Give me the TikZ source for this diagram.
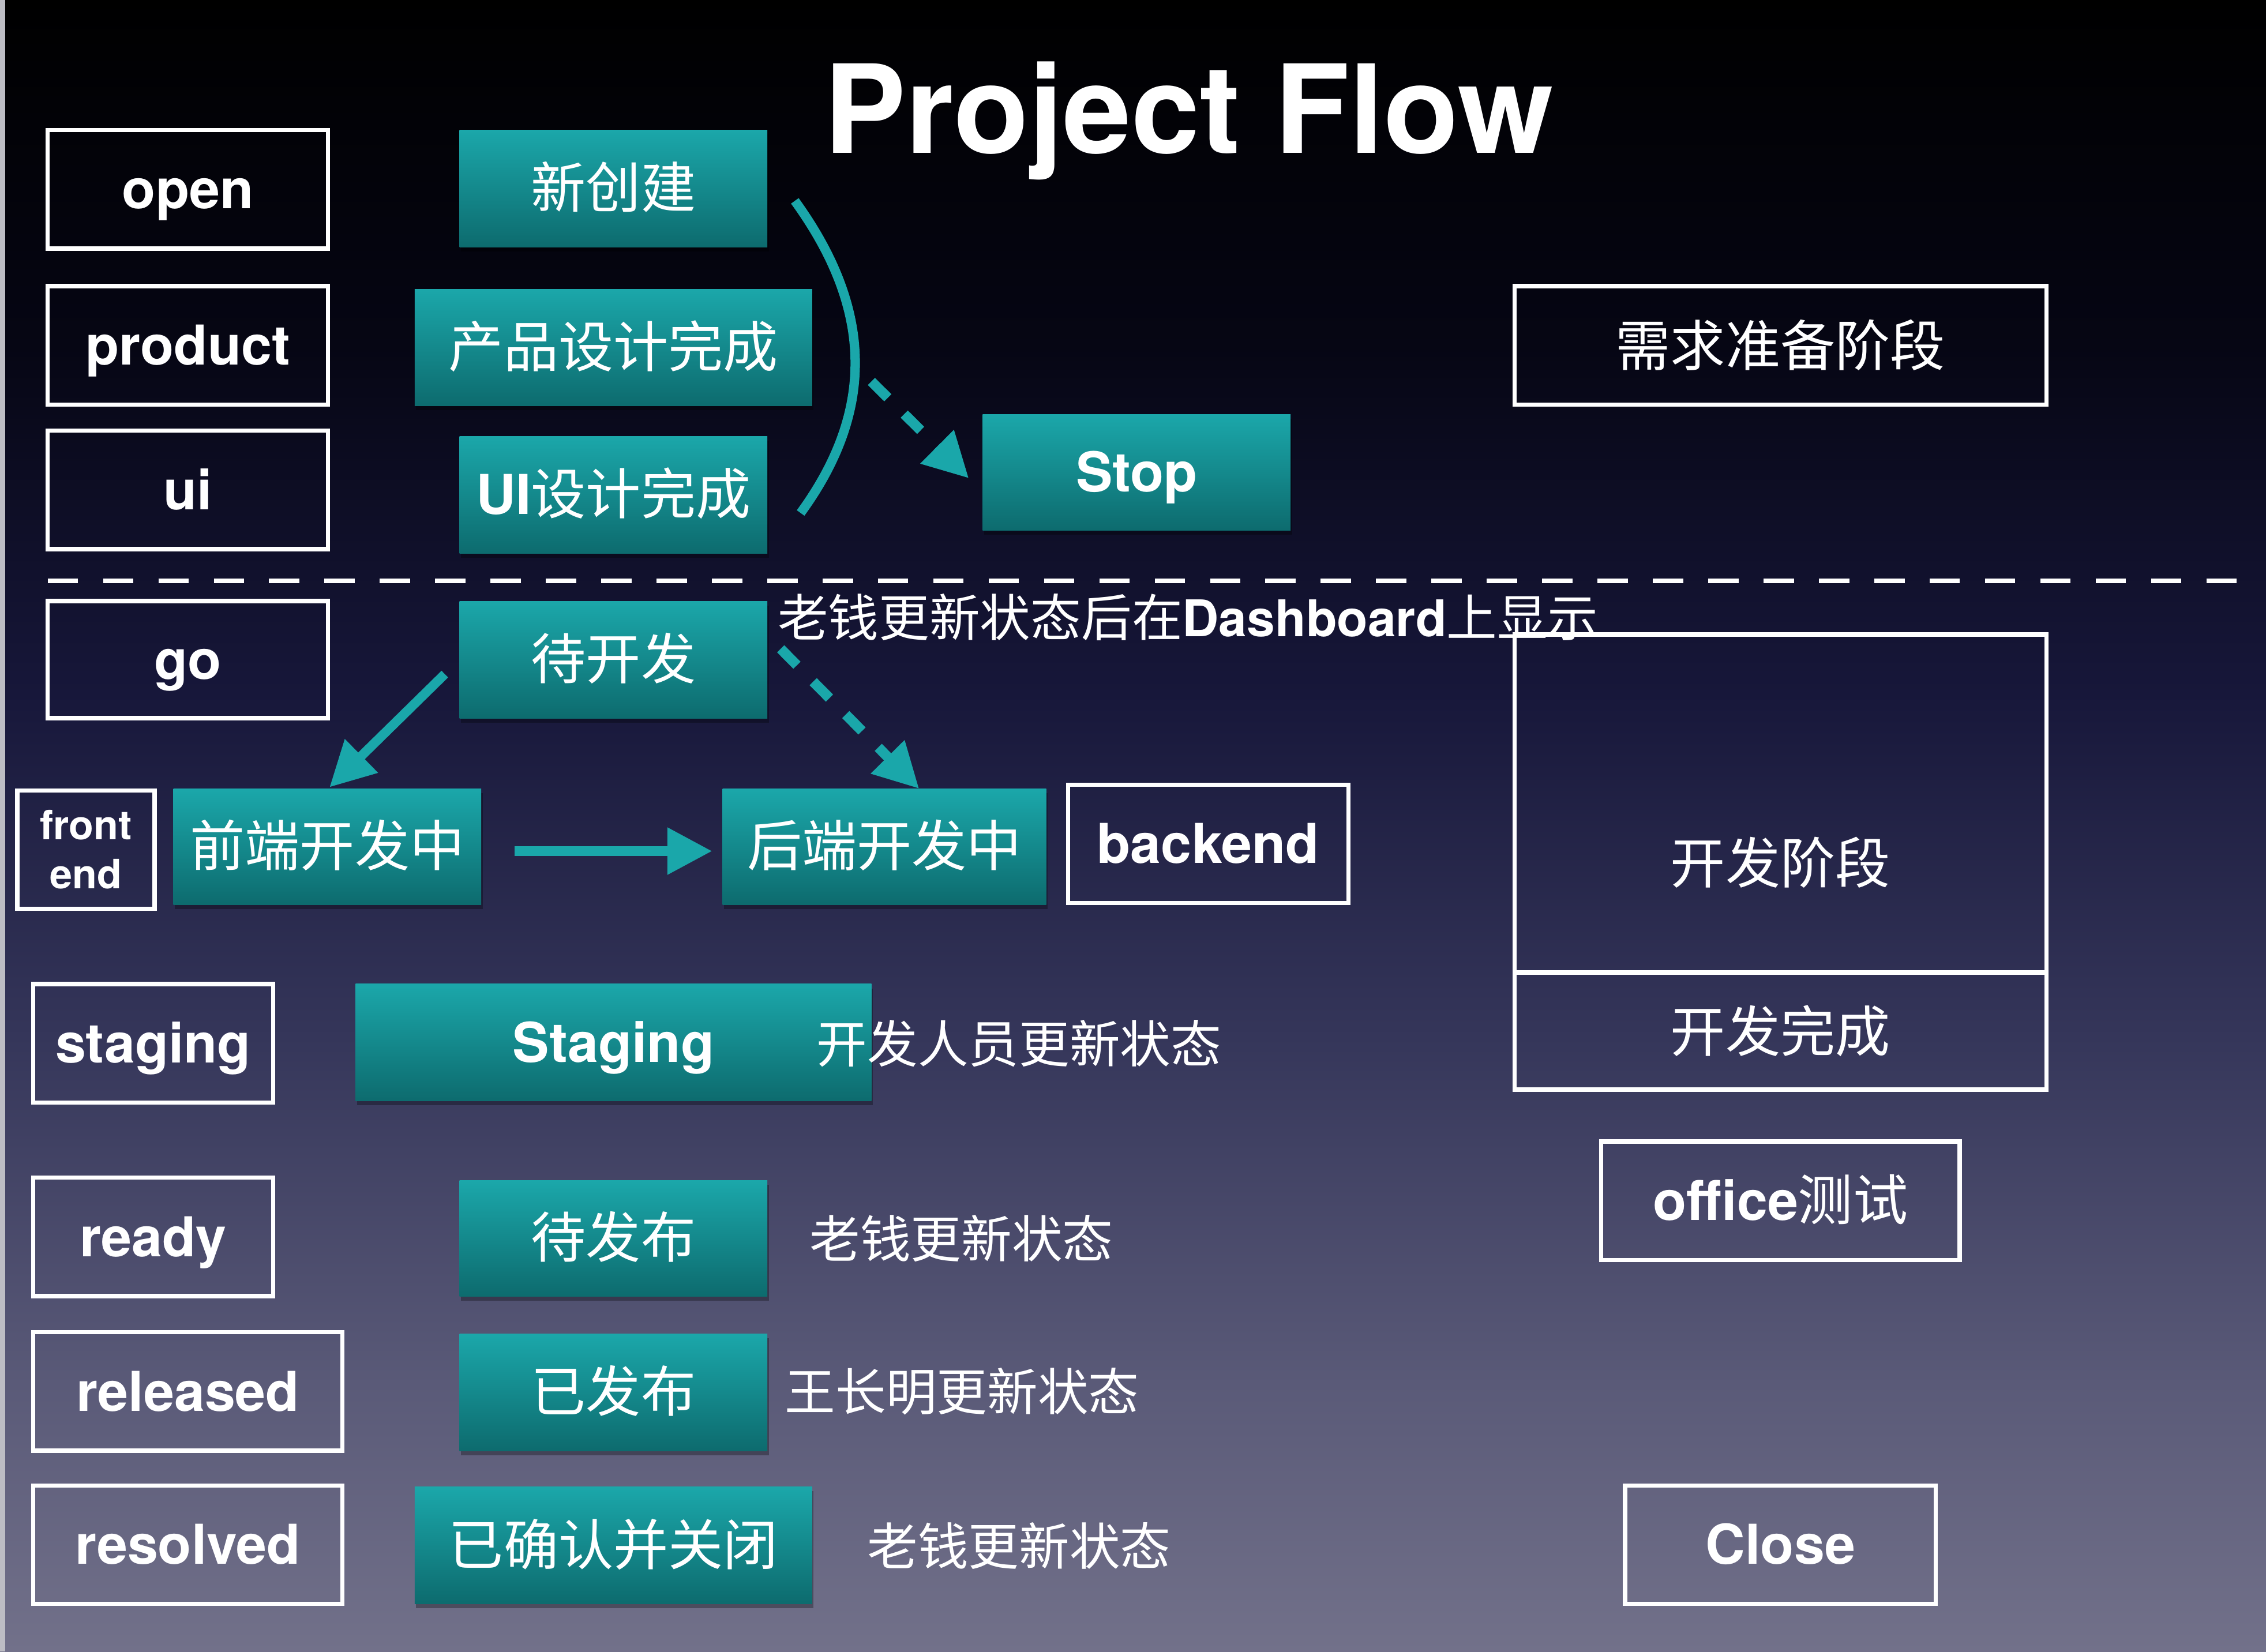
\documentclass[tikz,border=0pt]{standalone}
\usepackage{fontspec}
\setmainfont{TeX Gyre Heros}
\newfontfamily\cjk{Noto Sans CJK SC}
\usetikzlibrary{calc,arrows.meta,shadows}
\definecolor{bgA}{HTML}{060614}
\definecolor{bgB}{HTML}{17173A}
\definecolor{bgC}{HTML}{35365A}
\definecolor{bgD}{HTML}{5A5A78}
\definecolor{bgE}{HTML}{72718A}
\definecolor{edgegray}{HTML}{BDBDC4}
\definecolor{tealtop}{HTML}{1BA7AA}
\definecolor{tealbot}{HTML}{0D6B6E}
\definecolor{flowteal}{HTML}{1AA7AA}
\pgfdeclareverticalshading{slidebg}{100bp}{color(0bp)=(bgE); color(25bp)=(bgE); color(33.1bp)=(bgD); color(43.6bp)=(bgC); color(54bp)=(bgB); color(64.5bp)=(bgA); color(75bp)=(black); color(100bp)=(black)}
\def\sz#1{\fontsize{#1}{#1}\selectfont}
\def\lat#1{{\rmfamily\bfseries #1}}
\tikzset{
  tag/.style={draw=white, line width=3pt, text=white, inner sep=0pt, minimum height=82pt, text height=27pt, text depth=0pt, font=\sz{38}\bfseries},
  stage/.style={top color=tealtop, bottom color=tealbot, text=white, inner sep=0pt, minimum height=81pt, text height=27pt, text depth=0pt, font=\sz{38}\cjk,
    drop shadow={shadow xshift=1pt, shadow yshift=-3pt, opacity=0.3, fill=black}},
  phase/.style={draw=white, line width=3pt, text=white, inner sep=0pt, minimum width=368pt, font=\sz{38}\cjk},
  note/.style={text=white, anchor=west, inner sep=0pt, font=\sz{35}\cjk},
  flow/.style={draw=flowteal, line width=6.5pt},
  flowhead/.style={-{Triangle[length=31pt,width=31pt]}},
  flowdash/.style={line width=7pt, dash pattern=on 16pt off 16pt},
}

\begin{document}
\begin{tikzpicture}[x=1pt,y=-1pt]
		%%%%% BACKGROUND %%%%%
		\shade[shading=slidebg] (0,0) rectangle (1568,1143);
		\fill[edgegray] (0,0) rectangle (3.5,1143);
		\useasboundingbox (0,0) rectangle (1568,1143);

		\node[text=white, font=\sz{85}\bfseries, anchor=base, inner sep=0pt] (title) at (822.5,106) {Project Flow};

		%%%%% STATUS TAGS %%%%%
		\node[tag, minimum width=194pt] (open) at (130,131) {open};
		\node[tag, minimum width=194pt] (product) at (130,239) {product};
		\node[tag, minimum width=194pt] (ui) at (130,339) {ui};
		\node[tag, minimum width=194pt, minimum height=81pt] (go) at (130,456.5) {go};
		\node[tag, minimum width=95pt, text height=, text depth=, font=\fontsize{28}{34}\selectfont\bfseries, align=center] (frontend) at (59.5,588) {front\\end};
		\node[tag, minimum width=166pt] (staging) at (106,722) {staging};
		\node[tag, minimum width=166pt] (ready) at (106,856) {ready};
		\node[tag, minimum width=214pt] (released) at (130,963) {released};
		\node[tag, minimum width=214pt] (resolved) at (130,1069) {resolved};
		\node[tag, minimum width=194pt] (backend) at (836,584) {backend};

		%%%%% STAGES %%%%%
		\node[stage, minimum width=213pt] (new) at (424.5,130.5) {新创建};
		\node[stage, minimum width=275pt] (prd) at (424.5,240.5) {产品设计完成};
		\node[stage, minimum width=213pt] (uid) at (424.5,342.5) {\lat{UI}设计完成};
		\node[stage, minimum width=213pt, minimum height=80pt, font=\sz{38}\bfseries] (stop) at (786.5,327) {Stop};
		\node[stage, minimum width=213pt] (todo) at (424.5,456.5) {待开发};
		\node[stage, minimum width=213pt, minimum height=80pt] (fe) at (226.5,586) {前端开发中};
		\node[stage, minimum width=224pt, minimum height=80pt] (be) at (612,586) {后端开发中};
		\node[stage, minimum width=357pt, font=\sz{38}\bfseries] (stg) at (424.5,721.5) {Staging};
		\node[stage, minimum width=213pt, minimum height=80pt] (tbr) at (424.5,857) {待发布};
		\node[stage, minimum width=213pt] (rel) at (424.5,963.5) {已发布};
		\node[stage, minimum width=275pt] (cls) at (424.5,1069.5) {已确认并关闭};

		%%%%% NOTES %%%%%
		\node[note] (dashnote) at (538,427) {老钱更新状态后在\lat{Dashboard}上显示};
		\node[note] (stgnote) at (565,722) {开发人员更新状态};
		\node[note] (tbrnote) at (560,857) {老钱更新状态};
		\node[note] (relnote) at (543,963) {王长明更新状态};
		\node[note] (clsnote) at (600,1070) {老钱更新状态};

		%%%%% PHASES %%%%%
		\node[phase, minimum height=82pt] (need) at (1232,239) {需求准备阶段};
		\node[phase, minimum height=234pt] (devphase) at (1232,556) {};
		\node[text=white, font=\sz{38}\cjk, inner sep=0pt] (devlabel) at ($(devphase.center)+(0,41)$) {开发阶段};
		\node[phase, minimum height=81pt] (devdone) at (1232,713.5) {开发完成};
		\node[tag, minimum width=248pt] (office) at (1232,831) {office{\cjk\mdseries 测试}};
		\node[tag, minimum width=215pt] (close) at (1232,1069) {Close};

		%%%%% SEPARATOR %%%%%
		\coordinate (sepL) at (33,402);
		\coordinate (sepR) at (1548,402);
		\draw[white, line width=3pt, dash pattern=on 21pt off 17.3pt] (sepL) -- (sepR);

		%%%%% FLOW %%%%%
		\coordinate (brTop) at (550,139);
		\coordinate (brBot) at (554,355);
		\draw[flow] (brTop) .. controls (605,215) and (605,285) .. (brBot);
		\coordinate (stopFrom) at (603,264);
		\draw[flow, flowdash, flowhead] (stopFrom) -- ($(stop.west)+(-9.4,4)$);
		\draw[flow, flowhead] ($(todo.west)+(-10,10)$) -- ($(fe.north)+(1.5,-1)$);
		\draw[flow, flowdash, flowhead] ($(todo.east)+(9,-7.5)$) -- ($(be.north)+(24,0)$);
		\draw[flow, flowhead] ($(fe.east)+(23,3)$) -- ($(be.west)+(-7,3)$);
		%%%%% END %%%%%
\end{tikzpicture}
\end{document}
